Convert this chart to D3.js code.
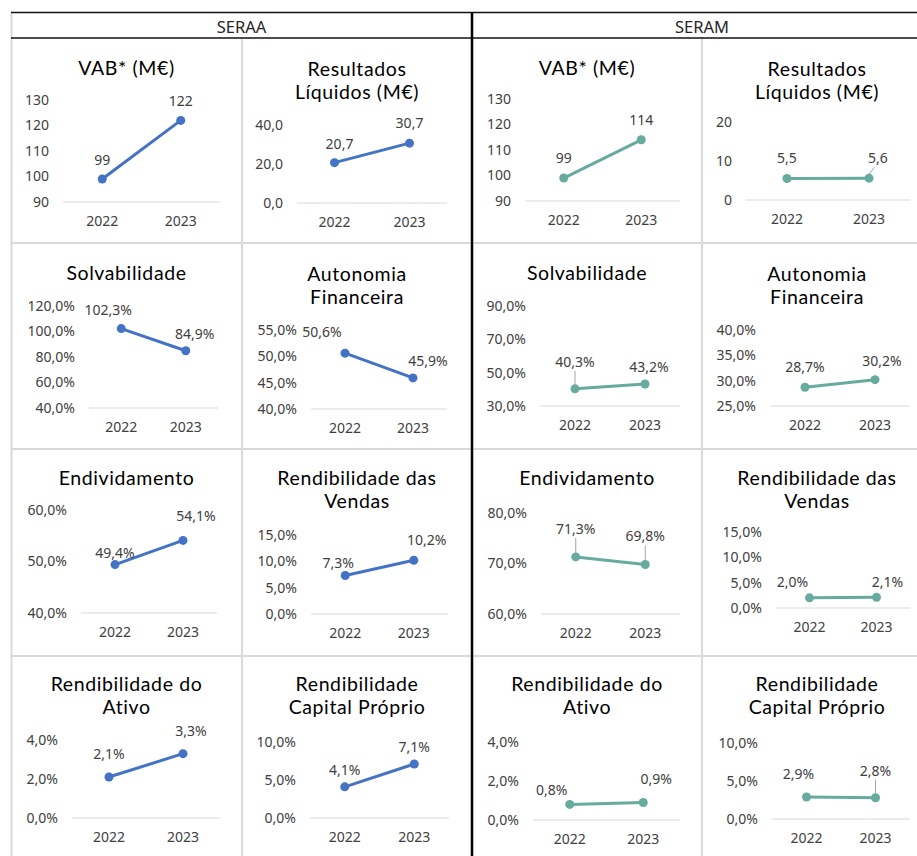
<!DOCTYPE html>
<html>
<head>
<meta charset="utf-8">
<script src="https://cdn.jsdelivr.net/npm/d3@7"></script>
<style>
  body { margin: 0; background: #fff; }
  text { font-family: "Noto Sans", sans-serif; }
</style>
</head>
<body>
<svg id="chart" width="917" height="856"></svg>
<script>
// data
const years = ["2022", "2023"];
const groups = ["SERAA", "SERAM"];
const titles = [
    ["VAB* (M€)"],
    ["Resultados", "Líquidos (M€)"],
    ["Solvabilidade"],
    ["Autonomia", "Financeira"],
    ["Endividamento"],
    ["Rendibilidade das", "Vendas"],
    ["Rendibilidade do", "Ativo"],
    ["Rendibilidade", "Capital Próprio"]
];
const seraaValues = [[99, 122], [20.7, 30.7], [102.3, 84.9], [50.6, 45.9], [49.4, 54.1], [7.3, 10.2], [2.1, 3.3], [4.1, 7.1]];
const seramValues = [[99, 114], [5.5, 5.6], [40.3, 43.2], [28.7, 30.2], [71.3, 69.8], [2.0, 2.1], [0.8, 0.9], [2.9, 2.8]];
const seraaTicks = [[90, 100, 110, 120, 130], [0, 20, 40], [40, 60, 80, 100, 120], [40, 45, 50, 55], [40, 50, 60], [0, 5, 10, 15], [0, 2, 4], [0, 5, 10]];
const seramTicks = [[90, 100, 110, 120, 130], [0, 10, 20], [30, 50, 70, 90], [25, 30, 35, 40], [60, 70, 80], [0, 5, 10, 15], [0, 2, 4], [0, 5, 10]];
const seraaTickDecimals = [0, 1, 1, 1, 1, 1, 1, 1];
const seramTickDecimals = [0, 0, 1, 1, 1, 1, 1, 1];
const labelDecimals = [0, 1, 1, 1, 1, 1, 1, 1];
const isPercent = [false, false, true, true, true, true, true, true];

const colors = ["#4472C4", "#67AB9F"];

// plot placement per panel (Excel's auto layout differs per chart)
const seraaLayout = [
    { gx: [63, 220], gy: [202, 100], title: 75, lbl: [[0, -19], [0, -19]] },
    { gx: [297, 447], gy: [203, 125], title: 76, lbl: [[5, -19], [0, -20]] },
    { gx: [89, 218], gy: [408, 306], title: 280, lbl: [[-13, -18], [9, -17]] },
    { gx: [311, 447], gy: [409, 330], title: 281, lbl: [[-23, -21], [15, -17]] },
    { gx: [81, 217], gy: [613, 510], title: 485, lbl: [[0, -11], [13, -24]] },
    { gx: [311, 448], gy: [614, 535], title: 485, lbl: [[-7, -12], [13, -20]] },
    { gx: [72, 220], gy: [818, 740], title: 691, lbl: [[0, -23], [8, -23]] },
    { gx: [310, 449], gy: [818, 742], title: 691, lbl: [[0, -17], [0, -17]] }
];
const seramLayout = [
    { gx: [525, 680], gy: [201, 99], title: 75, lbl: [[0, -20], [0, -20]] },
    { gx: [746, 910], gy: [200, 122], title: 76, lbl: [[0, -20], [9, -20]], lead: [false, true] },
    { gx: [540, 680], gy: [406, 306], title: 280, lbl: [[0, -27], [4, -17]], lead: [true, false] },
    { gx: [770, 910], gy: [406, 330], title: 281, lbl: [[0, -20], [7, -19]] },
    { gx: [541, 680], gy: [614, 513], title: 485, lbl: [[0, -28], [0, -28]], lead: [true, true] },
    { gx: [776, 910], gy: [608, 532], title: 485, lbl: [[-17, -16], [11, -15]] },
    { gx: [533, 680], gy: [820, 742], title: 691, lbl: [[-18, -14], [13, -23]] },
    { gx: [772, 910], gy: [819, 743], title: 691, lbl: [[-8, -23], [0, -27]], lead: [false, true] }
];

const cellX = [11, 242, 472, 702, 932];
const rowY = [38, 243, 449, 656, 856];

const svg = d3.select("#chart");
svg.append("rect").attr("width", 917).attr("height", 856).attr("fill", "#fff");

function fmt(v, dec, pct) {
    return d3.format("." + dec + "f")(v).replace(".", ",") + (pct ? "%" : "");
}

// grid of the table
const grid = svg.append("g");
rowY.slice(1, 4).forEach(y => {
    grid.append("line").attr("x1", 11).attr("x2", 917).attr("y1", y).attr("y2", y)
        .attr("stroke", "#d9d9d9").attr("stroke-width", 2);
});
[242, 702].forEach(x => {
    grid.append("line").attr("x1", x).attr("x2", x).attr("y1", 38).attr("y2", 856)
        .attr("stroke", "#d9d9d9").attr("stroke-width", 2);
});
grid.append("line").attr("x1", 11.5).attr("x2", 11.5).attr("y1", 12).attr("y2", 856)
    .attr("stroke", "#d9d9d9").attr("stroke-width", 2);
[12.5, 38].forEach(y => {
    grid.append("line").attr("x1", 11).attr("x2", 917).attr("y1", y).attr("y2", y)
        .attr("stroke", "#111").attr("stroke-width", 1.5);
});
grid.append("line").attr("x1", 472).attr("x2", 472).attr("y1", 12).attr("y2", 856)
    .attr("stroke", "#000").attr("stroke-width", 2.5);

groups.forEach((g, gi) => {
    svg.append("text")
        .attr("x", (cellX[gi * 2] + cellX[gi * 2 + 2]) / 2)
        .attr("y", 33)
        .attr("text-anchor", "middle")
        .attr("font-size", 16.5)
        .attr("fill", "#262626")
        .text(g);
});

function drawPanel(gi, i) {
    const values = gi === 0 ? seraaValues[i] : seramValues[i];
    const ticks = gi === 0 ? seraaTicks[i] : seramTicks[i];
    const tickDec = gi === 0 ? seraaTickDecimals[i] : seramTickDecimals[i];
    const lay = gi === 0 ? seraaLayout[i] : seramLayout[i];
    const col = gi * 2 + (i % 2);
    const cx = (cellX[col] + cellX[col + 1]) / 2;
    const color = colors[gi];

    const g = svg.append("g");

    // title
    titles[i].forEach((line, li) => {
        g.append("text")
            .attr("x", cx)
            .attr("y", lay.title + li * 23)
            .attr("text-anchor", "middle")
            .attr("font-size", 19.5)
            .attr("letter-spacing", 0.6)
            .style("font-family", "Lato, sans-serif")
            .attr("fill", "#000")
            .text(line);
    });

    const xScale = d3.scaleBand().domain(years).range(lay.gx);
    const yScale = d3.scaleLinear().domain([ticks[0], ticks[ticks.length - 1]]).range(lay.gy);
    const xPos = d => xScale(d) + xScale.bandwidth() / 2;

    // y axis labels only, baseline gridline
    const yAxis = d3.axisLeft(yScale).tickValues(ticks).tickSize(0).tickPadding(14)
        .tickFormat(v => fmt(v, tickDec, isPercent[i]));
    const ya = g.append("g").attr("transform", `translate(${lay.gx[0]},0)`).call(yAxis);
    ya.select(".domain").remove();
    ya.selectAll("text").attr("font-size", 14).attr("fill", "#404040")
        .style("font-family", '"Noto Sans", sans-serif');

    g.append("line")
        .attr("x1", lay.gx[0]).attr("x2", lay.gx[1])
        .attr("y1", yScale(ticks[0])).attr("y2", yScale(ticks[0]))
        .attr("stroke", "#d9d9d9").attr("stroke-width", 1);

    const xAxis = d3.axisBottom(xScale).tickSize(0).tickPadding(14);
    const xa = g.append("g").attr("transform", `translate(0,${yScale(ticks[0])})`).call(xAxis);
    xa.select(".domain").remove();
    xa.selectAll("text").attr("font-size", 14).attr("fill", "#404040")
        .style("font-family", '"Noto Sans", sans-serif');

    const pts = years.map((y, k) => ({ year: y, v: values[k], k: k }));

    const line = d3.line().x(d => xPos(d.year)).y(d => yScale(d.v));
    g.append("path").datum(pts)
        .attr("d", line)
        .attr("fill", "none")
        .attr("stroke", color)
        .attr("stroke-width", 3)
        .attr("stroke-linecap", "round");

    // leader lines for displaced labels
    pts.forEach(d => {
        if (lay.lead && lay.lead[d.k]) {
            const o = lay.lbl[d.k];
            g.append("line")
                .attr("x1", xPos(d.year)).attr("y1", yScale(d.v) - 4)
                .attr("x2", xPos(d.year) + o[0] * 0.6).attr("y2", yScale(d.v) + o[1] + 9)
                .attr("stroke", "#a6a6a6").attr("stroke-width", 1);
        }
    });

    g.selectAll("circle").data(pts).join("circle")
        .attr("cx", d => xPos(d.year))
        .attr("cy", d => yScale(d.v))
        .attr("r", 4.5)
        .attr("fill", color);

    g.selectAll(".dlabel").data(pts).join("text")
        .attr("class", "dlabel")
        .attr("x", d => xPos(d.year) + lay.lbl[d.k][0])
        .attr("y", d => yScale(d.v) + lay.lbl[d.k][1])
        .attr("dy", "0.35em")
        .attr("text-anchor", "middle")
        .attr("font-size", 14)
        .attr("fill", "#404040")
        .text(d => fmt(d.v, labelDecimals[i], isPercent[i]));
}

groups.forEach((g, gi) => {
    for (let i = 0; i < titles.length; i++) drawPanel(gi, i);
});
</script>
</body>
</html>
